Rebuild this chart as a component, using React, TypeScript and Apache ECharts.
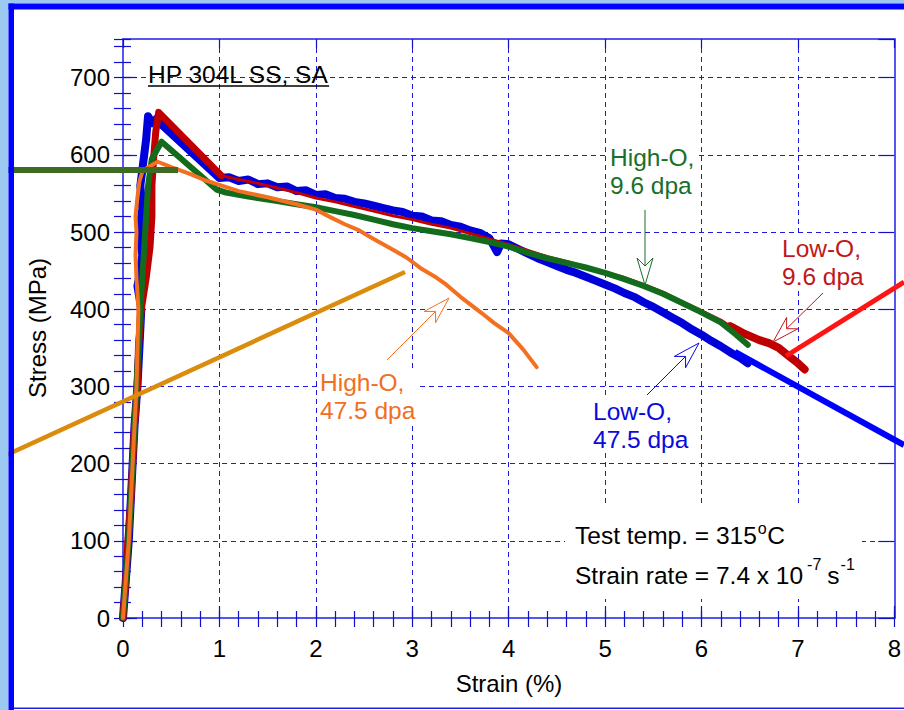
import React, { useEffect, useRef } from 'react';
import * as echarts from 'echarts';

const FONT = '"Liberation Sans", Arial, Helvetica, sans-serif';

// Axis tick labels
const xTickLabels = ['0', '1', '2', '3', '4', '5', '6', '7', '8'];
const yTickLabels = ['0', '100', '200', '300', '400', '500', '600', '700'];

// Low-O, 9.6 dpa (red)
const lowO96Strain = [0, 0.03, 0.05, 0.08, 0.1, 0.12, 0.15, 0.16, 0.19, 0.24, 0.28, 0.3, 0.3, 0.32, 0.34, 0.37, 1.02, 1.2, 1.4, 1.6, 1.8, 2.0, 2.2, 2.4, 2.6, 2.8, 3.0, 3.2, 3.4, 3.6, 3.8, 4.0, 4.2, 4.4, 4.6, 4.8, 5.0, 5.2, 5.4, 5.6, 5.8, 6.0, 6.2, 6.3, 6.45, 6.6, 6.7, 6.8, 6.9, 7.0, 7.07];
const lowO96Stress = [0, 50, 100, 150, 200, 250, 300, 350, 400, 440, 480, 520, 560, 600, 630, 655, 573, 568, 563, 557, 551, 544, 539, 533, 527, 521, 516, 510, 505, 498, 491, 484, 476, 468, 462, 455, 448, 441, 432, 422, 410, 398, 386, 378, 368, 360, 356, 350, 340, 330, 322];

// Low-O, 47.5 dpa (blue)
const lowO475Strain = [0, 0.03, 0.06, 0.08, 0.1, 0.12, 0.15, 0.17, 0.19, 0.15, 0.18, 0.2, 0.17, 0.2, 0.18, 0.21, 0.24, 0.26, 0.3, 0.34, 0.4, 1.0, 1.1, 1.2, 1.3, 1.4, 1.5, 1.6, 1.7, 1.8, 1.9, 2.0, 2.1, 2.2, 2.3, 2.4, 2.5, 2.6, 2.7, 2.8, 2.9, 3.0, 3.1, 3.2, 3.3, 3.4, 3.5, 3.6, 3.7, 3.8, 3.88, 3.92, 4.0, 4.1, 4.2, 4.3, 4.4, 4.5, 4.6, 4.7, 4.8, 4.9, 5.0, 5.1, 5.2, 5.3, 5.4, 5.5, 5.6, 5.7, 5.8, 5.9, 6.0, 6.1, 6.2, 6.3, 6.4, 6.48];
const lowO475Stress = [0, 50, 100, 150, 200, 250, 300, 350, 400, 430, 450, 470, 500, 530, 560, 590, 620, 650, 641, 646, 639, 570, 571, 566, 568, 562, 563, 558, 559, 553, 554, 548, 549, 544, 543, 539, 537, 534, 531, 528, 526, 521, 520, 515, 514, 509, 507, 502, 499, 492, 474, 485, 484, 478, 472, 466, 461, 456, 451, 447, 442, 437, 432, 427, 421, 416, 409, 403, 396, 389, 382, 374, 367, 359, 352, 344, 337, 330];

// High-O, 9.6 dpa (green)
const highO96Strain = [0, 0.03, 0.06, 0.08, 0.1, 0.12, 0.14, 0.16, 0.18, 0.2, 0.22, 0.24, 0.26, 0.3, 0.4, 0.97, 1.07, 1.3, 1.6, 1.8, 2.0, 2.2, 2.4, 2.6, 2.8, 3.0, 3.2, 3.4, 3.6, 3.8, 4.0, 4.2, 4.4, 4.6, 4.8, 5.0, 5.2, 5.4, 5.6, 5.8, 6.0, 6.2, 6.35, 6.48];
const highO96Stress = [0, 50, 100, 150, 200, 250, 300, 350, 400, 440, 480, 520, 560, 595, 617, 555, 551, 546, 540, 536, 532, 527, 522, 516, 510, 505, 501, 497, 492, 487, 481, 473, 466, 460, 454, 447, 439, 430, 420, 408, 396, 383, 368, 354];

// High-O, 47.5 dpa (orange)
const highO475Strain = [0, 0.03, 0.06, 0.08, 0.1, 0.12, 0.14, 0.15, 0.16, 0.14, 0.13, 0.14, 0.13, 0.15, 0.17, 0.2, 0.26, 0.36, 0.5, 0.7, 0.85, 1.0, 1.2, 1.5, 1.8, 2.0, 2.17, 2.3, 2.45, 2.6, 2.8, 2.94, 3.1, 3.25, 3.35, 3.5, 3.72, 3.85, 4.0, 4.15, 4.29];
const highO475Stress = [0, 50, 100, 150, 200, 250, 300, 350, 400, 440, 470, 500, 520, 545, 565, 578, 584, 591, 584, 575, 567, 561, 553, 545, 536, 529, 518, 510, 502, 491, 477, 467, 452, 441, 432, 416, 395, 382, 369, 348, 325];

const RED = '#c00000';
const BLUE = '#0000d8';
const GREEN = '#136b1c';
const ORANGE = '#f37020';

const AXIS = '#5656ee';
const TICK = '#1010cc';
const GRID = '#1a1ae0';

const TXT = 24.5;

function pairs(xs: number[], ys: number[]) {
  return xs.map((x, i) => [x, ys[i]]);
}

function arrow(x1: number, y1: number, x2: number, y2: number, color: string) {
  const dx = x2 - x1;
  const dy = y2 - y1;
  const len = Math.sqrt(dx * dx + dy * dy);
  const ux = dx / len;
  const uy = dy / len;
  const px = -uy;
  const py = ux;
  const L = 27;
  const W = 8;
  const N = 19;
  const nx = x2 - ux * N;
  const ny = y2 - uy * N;
  return [
    { type: 'line', z: 20, shape: { x1, y1, x2: nx, y2: ny }, style: { stroke: color, lineWidth: 1 } },
    {
      type: 'polygon', z: 20,
      shape: { points: [[x2, y2], [x2 - ux * L + px * W, y2 - uy * L + py * W], [nx, ny], [x2 - ux * L - px * W, y2 - uy * L - py * W]] },
      style: { fill: '#ffffff', stroke: color, lineWidth: 1 },
    },
  ];
}

function txt(text: string, x: number, y: number, size: number, color: string, extra: any = {}) {
  return {
    type: 'text', z: 20, x, y,
    style: {
      text, fontSize: size, fontFamily: FONT, fill: color,
      align: 'left', textAlign: 'left', verticalAlign: 'middle', textVerticalAlign: 'middle',
      ...extra,
    },
  };
}

function label(text: string, x: number, top: number, color: string) {
  return {
    type: 'text', z: 20, x, y: top,
    style: {
      text, fontSize: TXT, fontFamily: FONT, fill: color, lineHeight: 28,
      align: 'left', textAlign: 'left', verticalAlign: 'top', textVerticalAlign: 'top',
      backgroundColor: '#ffffff', padding: [0, 2, 0, 2],
    },
  };
}

export default function App() {
  const ref = useRef<HTMLDivElement>(null);

  useEffect(() => {
    document.body.style.margin = '0';
    const chart = echarts.init(ref.current as HTMLDivElement, null, { renderer: 'svg', width: 904, height: 710 });

    const ctx = document.createElement('canvas').getContext('2d') as CanvasRenderingContext2D;
    const measure = (t: string, size: number) => {
      ctx.font = `${size}px "Liberation Sans"`;
      return ctx.measureText(t).width;
    };

    const redAll = pairs(lowO96Strain, lowO96Stress);
    const redPeak = redAll.filter((p) => p[0] <= 1.02);
    const redMid = redAll.filter((p) => p[0] >= 1.02 && p[0] <= 6.3);
    const redEnd = redAll.filter((p) => p[0] >= 6.3);

    const lineSeries = (data: number[][], color: string, width: number, z: number) => ({
      type: 'line', data, xAxisIndex: 0, yAxisIndex: 0, showSymbol: false, symbol: 'none', silent: true, z,
      lineStyle: { color, width, cap: 'round', join: 'round' },
    });

    // superscript texts
    const t1 = 'Test temp. = 315';
    const w1 = measure(t1, TXT);
    const wo = measure('o', 16);
    const t2 = 'Strain rate = 7.4 x 10';
    const w2 = measure(t2, TXT);
    const w7 = measure('-7', 16);
    const ws = measure('s', TXT);
    const tx = 575;

    const graphics: any[] = [
      // slide border
      { type: 'rect', z: 30, shape: { x: 0, y: 0, width: 904, height: 3.5 }, style: { fill: '#9cc9f2' } },
      { type: 'rect', z: 30, shape: { x: 0, y: 0, width: 8.5, height: 710 }, style: { fill: '#9cc9f2' } },
      { type: 'rect', z: 30, shape: { x: 8.5, y: 3.5, width: 896, height: 6 }, style: { fill: '#0000ff' } },
      { type: 'rect', z: 30, shape: { x: 8.5, y: 3.5, width: 5.5, height: 707 }, style: { fill: '#0000ff' } },
      { type: 'rect', z: 30, shape: { x: 14, y: 707.5, width: 890, height: 1.5 }, style: { fill: '#2020e0' } },
      // white box behind test conditions
      { type: 'rect', z: 1, shape: { x: 565, y: 505, width: 297, height: 94 }, style: { fill: '#ffffff' } },
      // title
      txt('HP 304L SS, SA', 148, 74, TXT, '#000'),
      { type: 'line', z: 20, shape: { x1: 148, y1: 86, x2: 148 + measure('HP 304L SS, SA', TXT), y2: 86 }, style: { stroke: '#000', lineWidth: 1.5 } },
      // axis names
      txt('Strain (%)', 509, 683, 24, '#000', { align: 'center', textAlign: 'center' }),
      { ...txt('Stress (MPa)', 0, 0, 24, '#000', { align: 'center', textAlign: 'center' }), x: 37, y: 328, rotation: Math.PI / 2 },
      // labels
      label('High-O,\n9.6 dpa', 608, 143, '#18702a'),
      label('Low-O,\n9.6 dpa', 780, 234, '#c01818'),
      label('High-O,\n47.5 dpa', 318, 368, '#f07022'),
      label('Low-O,\n47.5 dpa', 591, 397, '#0a0adc'),
      ...arrow(645, 210, 645, 285, '#18702a'),
      ...arrow(823, 293, 773, 342, '#c01818'),
      ...arrow(387, 360, 449, 298, '#f07022'),
      ...arrow(647, 395, 699, 343, '#0a0adc'),
      // test conditions
      txt(t1, tx, 535, TXT, '#000'),
      txt('o', tx + w1 + 1, 528, 16, '#000'),
      txt('C', tx + w1 + 1 + wo + 0.5, 535, TXT, '#000'),
      txt(t2, tx, 575, TXT, '#000'),
      txt('-7', tx + w2 + 4, 564, 16, '#000'),
      txt('s', tx + w2 + 4 + w7 + 6, 575, TXT, '#000'),
      txt('-1', tx + w2 + 4 + w7 + 6 + ws + 1, 564, 16, '#000'),
      // overlaid slide lines
      { type: 'line', z: 25, shape: { x1: 0, y1: 170, x2: 178, y2: 170 }, style: { stroke: '#3d6b24', lineWidth: 6 } },
      { type: 'line', z: 25, shape: { x1: 0, y1: 458, x2: 405, y2: 272 }, style: { stroke: '#db8c0c', lineWidth: 4.5 } },
      { type: 'line', z: 25, shape: { x1: 786, y1: 356, x2: 904, y2: 282 }, style: { stroke: '#ff1414', lineWidth: 5 } },
      { type: 'line', z: 25, shape: { x1: 735, y1: 352, x2: 904, y2: 445 }, style: { stroke: '#0000ff', lineWidth: 6 } },
    ];

    const minorX = (position: string, length: number) => ({
      type: 'value', min: 0, max: 8, interval: 0.2, position,
      axisLine: { show: false }, axisLabel: { show: false }, splitLine: { show: false },
      axisTick: { show: true, inside: true, length, lineStyle: { color: TICK, width: 1.2 } },
    });
    const minorY = (position: string, length: number) => ({
      type: 'value', min: 0, max: 750, interval: 20, position,
      axisLine: { show: false }, axisLabel: { show: false }, splitLine: { show: false },
      axisTick: { show: true, inside: true, length, lineStyle: { color: TICK, width: 1.2 } },
    });

    const option: any = {
      animation: false,
      backgroundColor: '#ffffff',
      grid: { left: 123, top: 39, right: 9, bottom: 92, show: false },
      xAxis: [
        {
          type: 'value', min: 0, max: 8, interval: 1, position: 'bottom',
          axisLine: { show: true, onZero: false, lineStyle: { color: AXIS, width: 2 } },
          axisTick: { show: true, inside: true, length: 12, lineStyle: { color: TICK, width: 1.2 } },
          axisLabel: {
            show: true, margin: 18, color: '#000', fontSize: 24, fontFamily: FONT,
            formatter: (v: number) => xTickLabels[Math.round(v)] ?? '',
          },
          splitLine: { show: true, lineStyle: { color: GRID, type: [5, 4], width: 1 } },
        },
        minorX('bottom', 7),
        {
          type: 'value', min: 0, max: 8, interval: 1, position: 'top',
          axisLine: { show: true, onZero: false, lineStyle: { color: AXIS, width: 2 } },
          axisTick: { show: true, inside: true, length: 9, lineStyle: { color: TICK, width: 1.2 } },
          axisLabel: { show: false }, splitLine: { show: false },
        },
        minorX('top', 9),
      ],
      yAxis: [
        {
          type: 'value', min: 0, max: 750, interval: 100, position: 'left',
          axisLine: { show: true, onZero: false, lineStyle: { color: AXIS, width: 2 } },
          axisTick: { show: true, inside: true, length: 14, lineStyle: { color: TICK, width: 1.2 } },
          axisLabel: {
            show: true, margin: 13, color: '#000', fontSize: 24, fontFamily: FONT, showMaxLabel: false,
            formatter: (v: number) => (v % 100 === 0 ? yTickLabels[v / 100] ?? '' : ''),
          },
          splitLine: { show: true, lineStyle: { color: GRID, type: [5, 4], width: 1 } },
        },
        minorY('left', 8),
        {
          type: 'value', min: 0, max: 750, interval: 100, position: 'right',
          axisLine: { show: true, onZero: false, lineStyle: { color: AXIS, width: 2 } },
          axisTick: { show: true, inside: true, length: 16, lineStyle: { color: TICK, width: 1.2 } },
          axisLabel: { show: false }, splitLine: { show: false },
        },
        minorY('right', 9),
      ],
      series: [
        lineSeries(pairs(lowO475Strain, lowO475Stress), BLUE, 8, 2),
        lineSeries(redPeak, RED, 7, 3),
        lineSeries(redMid, RED, 3, 3),
        lineSeries(redEnd, RED, 8, 3),
        lineSeries(pairs(highO96Strain, highO96Stress), GREEN, 6, 4),
        lineSeries(pairs(highO475Strain, highO475Stress), ORANGE, 4, 5),
      ],
      graphic: { elements: graphics },
    };

    chart.setOption(option);
    return () => chart.dispose();
  }, []);

  return <div ref={ref} style={{ width: 904, height: 710, background: '#ffffff' }} />;
}
